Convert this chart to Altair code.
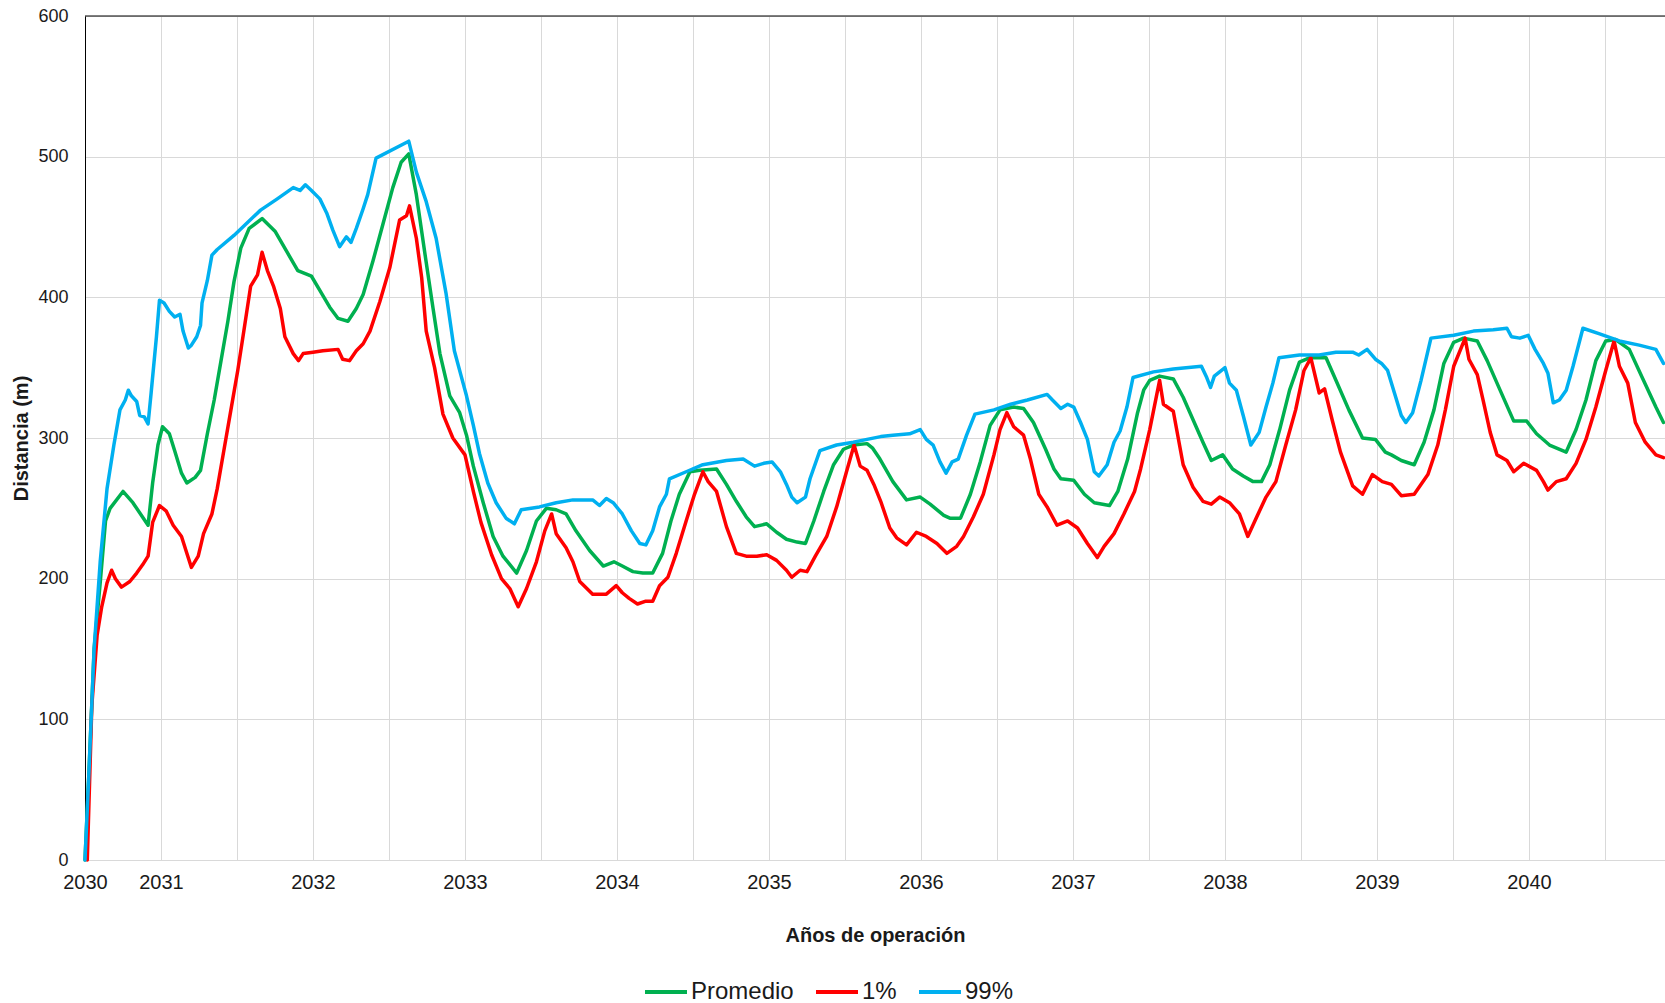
import altair as alt
import pandas as pd

# Time axis in half-year steps: 0 = start of operation (2030), one gridline per step.
# Distances in metres for each statistic.

p99_t = [0, 0.05, 0.12, 0.20, 0.29, 0.38, 0.46, 0.53, 0.57, 0.61, 0.68, 0.72, 0.78, 0.83, 0.87,
         0.94, 0.98, 1.04, 1.11, 1.18, 1.25, 1.29, 1.36, 1.40, 1.47, 1.52, 1.54, 1.61, 1.67, 1.74,
         1.96, 2.31, 2.53, 2.74, 2.83, 2.90, 2.98, 3.09, 3.18, 3.26, 3.35, 3.44, 3.50, 3.57, 3.66,
         3.72, 3.83, 4.26, 4.36, 4.49, 4.62, 4.75, 4.86, 4.95, 5.02, 5.11, 5.19, 5.30, 5.41, 5.54,
         5.65, 5.74, 5.98, 6.20, 6.42, 6.68, 6.77, 6.86, 6.95, 7.07, 7.19, 7.30, 7.38, 7.47, 7.56,
         7.65, 7.69, 7.91, 8.13, 8.44, 8.66, 8.81, 8.93, 9.04, 9.15, 9.23, 9.30, 9.37, 9.48, 9.54,
         9.67, 9.89, 10.11, 10.29, 10.47, 10.63, 10.85, 10.99, 11.07, 11.16, 11.25, 11.33, 11.41,
         11.49, 11.60, 11.71, 11.96, 12.18, 12.40, 12.66, 12.73, 12.84, 12.93, 13.01, 13.10, 13.19,
         13.28, 13.34, 13.45, 13.54, 13.62, 13.71, 13.79, 14.06, 14.32, 14.69, 14.76, 14.81, 14.86,
         15.00, 15.06, 15.15, 15.24, 15.34, 15.45, 15.54, 15.63, 15.71, 15.98, 16.24, 16.46, 16.68,
         16.76, 16.87, 16.98, 17.06, 17.14, 17.23, 17.32, 17.38, 17.47, 17.58, 17.71, 18.01, 18.27,
         18.53, 18.71, 18.77, 18.88, 18.99, 19.08, 19.19, 19.25, 19.32, 19.40, 19.49, 19.58, 19.71,
         19.93, 20.19, 20.45, 20.67, 20.77]
p99_v = [0, 60, 150, 212, 264, 295, 320, 327, 334, 330, 326, 316, 315, 310, 332,
         372, 398, 396, 390, 386, 388, 376, 364, 366, 372, 380, 396, 412, 430, 434,
         444, 462, 470, 478, 476, 480, 476, 470, 460, 448, 436, 443, 439, 449, 463,
         473, 499, 511, 489, 468, 442, 403, 362, 344, 330, 309, 289, 268, 254, 243,
         239, 249, 251, 254, 256, 256, 252, 257, 254, 246, 234, 225, 224, 234, 251,
         260, 271, 276, 281, 284, 285, 280, 282, 283, 276, 267, 258, 254, 258, 271,
         291, 295, 297, 299, 301, 302, 303, 306, 299, 295, 283, 275, 283,
         285, 302, 317, 320, 324, 327, 331, 327, 321, 324, 322, 311, 299,
         276, 273, 281, 297, 305, 322, 343, 347, 349, 351, 343, 336, 344,
         350, 339, 334, 316, 295, 304, 322, 339, 357, 359, 359, 361, 361,
         359, 363, 356, 353, 348, 332, 316, 311, 318, 341, 371, 373, 376,
         377, 378, 372, 371, 373, 363, 353, 346, 325, 327, 334, 351, 378,
         374, 369, 366, 363, 353]

prom_t = [0, 0.05, 0.12, 0.20, 0.27, 0.33, 0.50, 0.63, 0.83, 0.89, 0.96, 1.02, 1.11, 1.18, 1.27,
          1.34, 1.45, 1.52, 1.61, 1.70, 1.79, 1.88, 1.96, 2.05, 2.16, 2.33, 2.50, 2.65, 2.80, 2.98,
          3.09, 3.22, 3.33, 3.46, 3.57, 3.66, 3.79, 3.92, 4.05, 4.16, 4.26, 4.36, 4.47, 4.58, 4.67,
          4.80, 4.93, 5.02, 5.11, 5.24, 5.37, 5.50, 5.68, 5.81, 5.94, 6.07, 6.20, 6.33, 6.46, 6.64,
          6.82, 6.96, 7.07, 7.21, 7.34, 7.47, 7.60, 7.71, 7.82, 7.96, 8.09, 8.31, 8.44, 8.57, 8.70,
          8.81, 8.97, 9.10, 9.23, 9.37, 9.48, 9.59, 9.72, 9.85, 9.98, 10.11, 10.29, 10.36, 10.46,
          10.63, 10.81, 10.99, 11.12, 11.30, 11.38, 11.52, 11.65, 11.78, 11.91, 12.04, 12.22, 12.35,
          12.48, 12.64, 12.75, 12.84, 13.01, 13.15, 13.28, 13.48, 13.59, 13.72, 13.85, 13.93, 14.01,
          14.14, 14.32, 14.45, 14.58, 14.71, 14.82, 14.97, 15.10, 15.24, 15.37, 15.48, 15.59, 15.72,
          15.85, 15.98, 16.11, 16.33, 16.46, 16.63, 16.81, 16.98, 17.11, 17.19, 17.32, 17.49, 17.62,
          17.75, 17.88, 18.01, 18.14, 18.32, 18.45, 18.62, 18.80, 18.97, 19.10, 19.27, 19.49, 19.62,
          19.75, 19.88, 20.01, 20.14, 20.32, 20.49, 20.67, 20.77]
prom_v = [0, 60, 150, 197, 241, 250, 262, 254, 238, 268, 295, 308, 303, 291, 275,
          268, 272, 277, 303, 327, 355, 383, 411, 435, 449, 456, 447, 433, 419, 415,
          405, 393, 385, 383, 392, 402, 426, 452, 478, 496, 502, 473, 432, 392, 360,
          330, 318, 302, 280, 254, 230, 216, 204, 220, 241, 250, 249, 246, 234, 220,
          209, 212, 209, 205, 204, 204, 218, 241, 260, 276, 277, 278, 267, 255, 244,
          237, 239, 233, 228, 226, 225, 241, 262, 281, 292, 295, 296, 293, 285,
          269, 256, 258, 253, 245, 243, 243, 260, 283, 309, 320, 322, 321,
          311, 292, 278, 271, 270, 260, 254, 252, 262, 285, 318, 334, 341,
          344, 342, 329, 313, 297, 284, 288, 278, 273, 269, 269, 281, 306,
          334, 354, 357, 357, 341, 320, 300, 299, 290, 288, 284, 281, 297,
          320, 353, 368, 371, 369, 355, 334, 312, 312, 303, 295, 290, 306,
          327, 355, 369, 370, 363, 343, 322, 311]

p01_t = [0.03, 0.09, 0.16, 0.22, 0.29, 0.35, 0.40, 0.48, 0.59, 0.68, 0.76, 0.83, 0.89, 0.98, 1.07,
         1.16, 1.27, 1.34, 1.40, 1.49, 1.56, 1.67, 1.74, 1.83, 1.92, 2.01, 2.09, 2.18, 2.27, 2.33,
         2.40, 2.48, 2.57, 2.63, 2.74, 2.81, 2.87, 3.00, 3.13, 3.33, 3.39, 3.48, 3.57, 3.66, 3.75,
         3.88, 4.01, 4.14, 4.23, 4.27, 4.36, 4.43, 4.49, 4.60, 4.71, 4.84, 5.00, 5.11, 5.21, 5.35,
         5.48, 5.59, 5.70, 5.81, 5.94, 6.05, 6.14, 6.20, 6.33, 6.42, 6.51, 6.68, 6.86, 6.99, 7.07,
         7.16, 7.27, 7.38, 7.47, 7.56, 7.67, 7.78, 7.91, 8.02, 8.13, 8.20, 8.31, 8.44, 8.57, 8.70,
         8.84, 8.97, 9.10, 9.23, 9.30, 9.41, 9.50, 9.61, 9.76, 9.89, 10.03, 10.12, 10.20, 10.29,
         10.38, 10.47, 10.59, 10.68, 10.81, 10.94, 11.07, 11.21, 11.34, 11.47, 11.56, 11.69, 11.82,
         11.96, 12.04, 12.13, 12.22, 12.35, 12.44, 12.55, 12.66, 12.79, 12.93, 13.06, 13.19, 13.32,
         13.41, 13.54, 13.67, 13.81, 13.89, 14.01, 14.14, 14.19, 14.32, 14.45, 14.58, 14.71, 14.82,
         14.93, 15.06, 15.19, 15.30, 15.41, 15.54, 15.67, 15.80, 15.93, 16.04, 16.13, 16.24, 16.31,
         16.41, 16.52, 16.68, 16.81, 16.94, 17.07, 17.19, 17.32, 17.49, 17.67, 17.80, 17.90, 18.01,
         18.16, 18.21, 18.32, 18.40, 18.49, 18.58, 18.71, 18.80, 18.93, 19.10, 19.19, 19.25, 19.36,
         19.49, 19.62, 19.75, 19.88, 20.01, 20.12, 20.19, 20.30, 20.40, 20.53, 20.67, 20.77]
p01_v = [0, 110, 160, 180, 197, 206, 200, 194, 198, 204, 210, 216, 240, 252, 248,
         238, 230, 218, 208, 216, 232, 246, 264, 292, 320, 348, 376, 408, 416, 432,
         419, 408, 392, 372, 360, 355, 360, 361, 362, 363, 356, 355, 362, 367, 376,
         397, 421, 455, 458, 465, 442, 414, 376, 350, 317, 300, 288, 262, 240, 217,
         200, 193, 180, 193, 212, 234, 246, 232, 222, 212, 198, 189, 189, 195, 190,
         186, 182, 184, 184, 195, 201, 218, 241, 260, 276, 269, 262, 237, 218, 216,
         216, 217, 213, 206, 201, 206, 205, 216, 230, 251, 278, 295, 280, 277,
         267, 255, 236, 229, 224, 233, 230, 225, 218, 223, 230, 244, 260,
         288, 306, 318, 308, 302, 285, 260, 251, 238, 241, 236, 225, 215,
         223, 232, 246, 262, 278, 306, 341, 324, 319, 281, 265, 255, 253,
         258, 254, 246, 230, 243, 258, 269, 295, 320, 348, 357, 332, 335,
         313, 290, 266, 260, 274, 269, 267, 259, 260, 274, 295, 320, 351,
         371, 356, 345, 326, 304, 288, 284, 276, 282, 277, 269, 263, 269,
         271, 282, 299, 322, 348, 369, 351, 339, 311, 297, 288, 286]

series_names = ["Promedio", "1%", "99%"]
series_colors = ["#00B050", "#FF0000", "#00B0F0"]
y_ticks = [0, 100, 200, 300, 400, 500, 600]
x_steps = list(range(0, 21))

rows = []
for name, ts, vs in zip(series_names, (prom_t, p01_t, p99_t), (prom_v, p01_v, p99_v)):
    for t, v in zip(ts, vs):
        rows.append({"serie": name, "t": t, "dist": v})
df = pd.DataFrame(rows)

FONT = "Liberation Sans"
W, H = 1580, 844

x_axis = alt.Axis(
    values=x_steps,
    labelExpr="datum.value == 0 ? '2030' : (datum.value % 2 == 1 ? '' + (2030 + (datum.value + 1) / 2) : '')",
    labelFlush=False,
    labelOverlap=False,
    labelFontSize=20,
    labelFont=FONT,
    labelColor="#1a1a1a",
    labelPadding=12,
    ticks=False,
    grid=True,
    gridColor="#D9D9D9",
    gridWidth=1,
    domainColor="#D9D9D9",
    domainWidth=1,
    title="Años de operación",
    titleFont=FONT,
    titleFontSize=20,
    titleFontWeight="bold",
    titleColor="#1a1a1a",
    titleX=W / 2,
    titleY=75,
    titleBaseline="middle",
    titleAlign="center",
)

y_axis = alt.Axis(
    values=y_ticks,
    labelFontSize=18,
    labelFont=FONT,
    labelColor="#1a1a1a",
    labelPadding=17,
    ticks=False,
    grid=True,
    gridColor="#D9D9D9",
    gridWidth=1,
    domainColor="#000000",
    domainWidth=1,
    title="Distancia (m)",
    titleFont=FONT,
    titleFontSize=20,
    titleFontWeight="bold",
    titleColor="#1a1a1a",
    titleAngle=-90,
    titleX=-64,
    titleY=H / 2,
    titleBaseline="middle",
    titleAlign="center",
)

lines = alt.Chart(df).mark_line(strokeWidth=3.5, strokeJoin="round", strokeCap="round").encode(
    x=alt.X("t:Q", scale=alt.Scale(domain=[0, 20.79], nice=False, zero=False), axis=x_axis),
    y=alt.Y("dist:Q", scale=alt.Scale(domain=[0, 600], nice=False), axis=y_axis),
    color=alt.Color(
        "serie:N",
        scale=alt.Scale(domain=series_names, range=series_colors),
        sort=series_names,
        legend=alt.Legend(
            title=None,
            orient="none",
            direction="horizontal",
            legendX=558,
            legendY=953,
            symbolType="stroke",
            symbolSize=1764,
            symbolStrokeWidth=4,
            labelFont=FONT,
            labelFontSize=24,
            labelColor="#1a1a1a",
            labelOffset=2,
            columnPadding=14,
            padding=0,
        ),
    ),
    order=alt.Order("t:Q"),
)

top_frame = alt.Chart(pd.DataFrame({"y": [600]})).mark_rule(color="#000000", strokeWidth=1).encode(
    y=alt.Y("y:Q")
)

chart = (
    alt.layer(lines, top_frame)
    .properties(
        width=W,
        height=H,
        autosize=alt.AutoSizeParams(type="none"),
        padding={"left": 85, "top": 16, "right": 0, "bottom": 143},
        background="white",
    )
    .configure_view(stroke=None)
)

chart.save("out.html", embed_options={"renderer": "svg", "actions": False})
